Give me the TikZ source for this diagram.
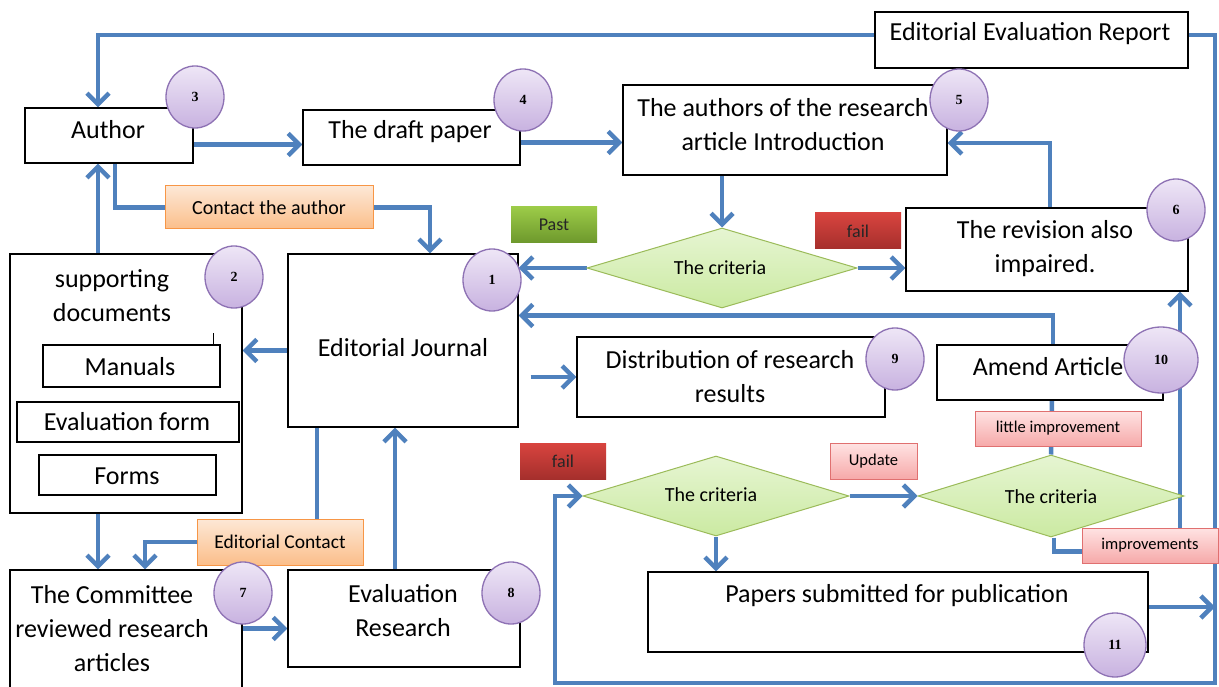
\documentclass[tikz,border=0pt]{standalone}
\usepackage{fontspec}
\setmainfont{Carlito}
\newfontfamily\numfont{Liberation Serif}
\usetikzlibrary{arrows.meta,shapes.geometric,calc}
\definecolor{ln}{HTML}{4F81BD}
\definecolor{circb}{HTML}{8E72B4}
\definecolor{circt}{HTML}{EEE6F6}
\definecolor{circbot}{HTML}{C8B2E0}
\definecolor{dmb}{HTML}{9BBB59}
\definecolor{dmt}{HTML}{E6F5D2}
\definecolor{dmbot}{HTML}{CBEAA2}
\definecolor{orb}{HTML}{F79646}
\definecolor{ort}{HTML}{FDE8D6}
\definecolor{orbot}{HTML}{FBBE8A}
\definecolor{rdt}{HTML}{D8443F}
\definecolor{rdbot}{HTML}{A52F2C}
\definecolor{grt}{HTML}{9CCB48}
\definecolor{grbot}{HTML}{6D982C}
\definecolor{pkb}{HTML}{E07070}
\definecolor{pkt}{HTML}{FFE3E3}
\definecolor{pkbot}{HTML}{F6A9A9}
\pgfdeclarelayer{back}
\pgfdeclarelayer{bg}
\pgfsetlayers{back,bg,main}
\begin{document}
\begin{tikzpicture}[x=1pt,y=-1pt,
  box/.style={draw=black, line width=1.2pt, fill=white, inner sep=0pt},
  txt/.style={font=\fontsize{26}{34}\selectfont, align=center, inner sep=0pt},
  num/.style={ellipse, draw=circb, line width=1.3pt, top color=circt, bottom color=circbot,
    minimum width=58pt, minimum height=62pt, inner sep=0pt,
    font=\numfont\bfseries\fontsize{14}{14}\selectfont},
  dia/.style={diamond, draw=dmb, line width=1pt, top color=dmt, bottom color=dmbot,
    inner sep=0pt},
  diatxt/.style={inner sep=0pt, font=\fontsize{20}{20}\selectfont},
  orange/.style={draw=orb, line width=1pt, top color=ort, bottom color=orbot, inner sep=0pt},
  redbox/.style={top color=rdt, bottom color=rdbot, inner sep=0pt, font=\fontsize{18}{18}\selectfont, text=black!85},
  greenbox/.style={top color=grt, bottom color=grbot, inner sep=0pt, font=\fontsize{18}{18}\selectfont, text=black!85},
  pink/.style={draw=pkb, line width=1pt, top color=pkt, bottom color=pkbot, inner sep=0pt, font=\fontsize{16.5}{16.5}\selectfont},
  conn/.style={draw=ln, line width=4.5pt},
  arr/.style={conn, -{Straight Barb[length=11pt,width=22pt]}}
]
\useasboundingbox (0,0) rectangle (1219,687);
\begin{pgfonlayer}{back}
\fill[white] (0,0) rectangle (1219,687);
\end{pgfonlayer}

% main boxes
\node[box, minimum width=313pt, minimum height=56pt] (eer) at (1031.5,40) {};
\node[txt] (eert) at (1030,34) {Editorial Evaluation Report};
\node[box, minimum width=168pt, minimum height=55pt] (author) at (109,135.5) {};
\node[txt] (authort) at (108,130) {Author};
\node[box, minimum width=217pt, minimum height=55pt] (draft) at (411.5,137.5) {};
\node[txt] (draftt) at (410,132) {The draft paper};
\node[box, minimum width=324pt, minimum height=90pt] (intro) at (785,130) {};
\node[txt] (introt) at (783,125) {The authors of the research\\article Introduction};
\node[box, minimum width=282pt, minimum height=83pt] (rev) at (1047,249.5) {};
\node[txt] (revt) at (1045,249) {The revision also\\impaired.};
\node[box, minimum width=230pt, minimum height=173pt] (ej) at (403,340.5) {};
\node[txt] (ejt) at (403,348) {Editorial Journal};
\node[box, minimum width=232pt, minimum height=259pt] (sup) at (126,383.5) {};
\node[txt] (supt) at (112,296) {supporting\\documents};
\node[box, minimum width=177pt, minimum height=42pt] (manuals) at (131.5,366) {};
\node[txt] (manualst) at (130,367) {Manuals};
\node[box, minimum width=222pt, minimum height=40pt] (evalform) at (128,422) {};
\node[txt] (evalformt) at (127,422) {Evaluation form};
\node[box, minimum width=177pt, minimum height=40pt] (forms) at (127.5,475) {};
\node[txt] (formst) at (127,476) {Forms};
\node[box, minimum width=232pt, minimum height=130pt] (committee) at (126,635) {};
\node[txt] (committeet) at (112,629) {The Committee\\reviewed research\\articles};
\node[box, minimum width=232pt, minimum height=97pt] (evalres) at (404,618.5) {};
\node[txt] (evalrest) at (403,611) {Evaluation\\Research};
\node[box, minimum width=308pt, minimum height=80pt] (dist) at (731,377) {};
\node[txt] (distt) at (730,377) {Distribution of research\\results};
\node[box, minimum width=226pt, minimum height=55pt] (amend) at (1050,372.5) {};
\node[txt] (amendt) at (1048,367) {Amend Article};
\node[box, minimum width=500pt, minimum height=80pt] (papers) at (898,612) {};
\node[txt] (paperst) at (897,596) {Papers submitted for publication};

% diamonds
\node[dia, minimum width=270pt, minimum height=80pt] (d1) at (722,268) {};
\node[diatxt] (d1t) at (720,268) {The criteria};
\node[dia, minimum width=266pt, minimum height=80pt] (d2) at (716,496) {};
\node[diatxt] (d2t) at (711,495) {The criteria};
\node[dia, minimum width=266pt, minimum height=82pt] (d3) at (1051,496) {};
\node[diatxt] (d3t) at (1051,497) {The criteria};

% label boxes
\node[orange, minimum width=208pt, minimum height=43pt, font=\fontsize{20}{20}\selectfont] (contact) at (269,207.5) {Contact the author};
\node[orange, minimum width=166pt, minimum height=46pt, font=\fontsize{19.5}{19.5}\selectfont] (edcontact) at (280,542) {Editorial Contact};
\node[greenbox, minimum width=86pt, minimum height=36pt] (past) at (554,225) {Past};
\node[redbox, minimum width=86pt, minimum height=36pt] (fail1) at (858,231) {fail};
\node[redbox, minimum width=86pt, minimum height=36pt] (fail2) at (563,461) {fail};
\node[pink, minimum width=87pt, minimum height=36pt] (update) at (873.5,461) {Update};
\node[pink, minimum width=166pt, minimum height=35pt] (little) at (1058,428.5) {little improvement};
\node[pink, minimum width=136pt, minimum height=35pt] (improv) at (1150,545.5) {improvements};

% number circles
\node[num] (c1) at (492,280) {1};
\node[num] (c2) at (234,277) {2};
\node[num] (c3) at (195,97) {3};
\node[num] (c4) at (523,100) {4};
\node[num] (c5) at (959,100) {5};
\node[num] (c6) at (1176,210) {6};
\node[num] (c7) at (243,593) {7};
\node[num] (c8) at (511,593) {8};
\node[num] (c9) at (895,359) {9};
\node[num, minimum width=74pt, minimum height=66pt] (c10) at (1161,360) {10};
\node[num, minimum width=62pt, minimum height=64pt] (c11) at (1115,645) {11};

% small stray tick in supporting documents
\draw[line width=1pt] (213,333) -- (213,345);

% connectors
\coordinate (rb) at (1215,683);
\coordinate (lb) at (555,496);
\begin{pgfonlayer}{bg}
\draw[arr] ([yshift=5pt]eer.west) -| ([xshift=-11pt]author.north);
\draw[arr] ([yshift=5pt]eer.east) -| (rb) -| (lb) -- (d2.west);
\draw[arr] ([yshift=-9pt]author.east) -- ([yshift=-9pt]author.east -| draft.west);
\draw[arr] ([yshift=-5pt]draft.east) -- ([yshift=-5pt]draft.east -| intro.west);
\draw[arr] (d1.north |- intro.south) -- (d1.north);
\draw[arr] (d1.west) -- (d1.west -| ej.east);
\draw[arr] (d1.east) -- (d1.east -| rev.west);
\draw[arr] ([xshift=3pt]rev.north) |- ([yshift=-13pt]intro.east);
\draw[arr] ([xshift=3pt]amend.north) |- ([yshift=25pt]ej.east);
\draw[arr] ($(ej.east |- dist.west)+(12,0)$) -- (dist.west);
\draw[conn] ([xshift=6pt]author.south) |- (contact.west);
\draw[arr] (contact.east) -| ([xshift=27pt]ej.north);
\draw[arr] ([xshift=-28pt]sup.north) -- ([xshift=-11pt]author.south);
\draw[arr] ([yshift=-10pt]ej.west) -- ([yshift=-10pt]ej.west -| sup.east);
\draw[arr] ([xshift=-28pt]sup.south) -- ([xshift=-28pt]committee.north);
\draw[conn] ([xshift=-86pt]ej.south) -- ([xshift=-86pt]ej.south |- edcontact.north);
\draw[arr] (edcontact.west) -| ([xshift=19pt]committee.north);
\draw[arr] ([yshift=-10pt]evalres.west -| committee.east) -- ([yshift=-10pt]evalres.west);
\draw[arr] ([xshift=-9pt]evalres.north) -- ([xshift=-9pt]evalres.north |- ej.south);
\draw[conn] ([xshift=2pt]amend.south) -- (d3.north);
\draw[arr] (d2.east) -- (d3.west);
\draw[arr] (d2.south) -- (d2.south |- papers.north);
\draw[arr] ([yshift=5pt]papers.east) -- ([yshift=5pt]papers.east -| rb);
\draw[conn] ([xshift=3pt]d3.south) |- ([yshift=-6pt]improv.west);
\draw[arr] ([xshift=30pt]improv.north) -- ([xshift=133pt]rev.south);
\end{pgfonlayer}
\end{tikzpicture}
\end{document}
